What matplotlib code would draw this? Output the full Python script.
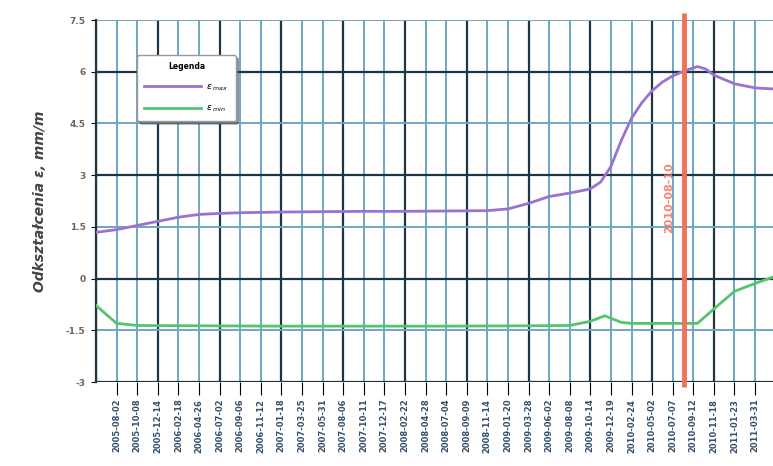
"""Odkształcenia - wykres eps max / eps min"""

import matplotlib.pyplot as plt

# tick labels along the time axis (one every ~66 days)
dates = ['2005-08-02', '2005-10-08', '2005-12-14', '2006-02-18', '2006-04-26',
         '2006-07-02', '2006-09-06', '2006-11-12', '2007-01-18', '2007-03-25',
         '2007-05-31', '2007-08-06', '2007-10-11', '2007-12-17', '2008-02-22',
         '2008-04-28', '2008-07-04', '2008-09-09', '2008-11-14', '2009-01-20',
         '2009-03-28', '2009-06-02', '2009-08-08', '2009-10-14', '2009-12-19',
         '2010-02-24', '2010-05-02', '2010-07-07', '2010-09-12', '2010-11-18',
         '2011-01-23', '2011-03-31']

# measurement positions (in tick units) and values, mm/m
eps_max_pos = [-1, 0, 1, 2, 3, 4, 5, 6, 8, 10, 12, 14, 16, 18, 19, 20, 21, 22, 23,
               23.5, 24, 24.5, 25, 25.5, 26, 26.5, 27, 27.6, 28.2, 28.6, 29, 30, 31, 31.9]
eps_max = [1.34, 1.42, 1.54, 1.66, 1.78, 1.86, 1.89, 1.91, 1.93, 1.94, 1.95, 1.95,
           1.96, 1.97, 2.02, 2.18, 2.38, 2.48, 2.60, 2.80, 3.25, 4.00, 4.65, 5.10,
           5.45, 5.70, 5.88, 6.03, 6.15, 6.08, 5.90, 5.65, 5.53, 5.50]

eps_min_pos = [-1, 0, 1, 4, 8, 12, 16, 20, 22, 23, 23.7, 24.5, 25, 26, 27, 28.2, 29,
               30, 31, 31.9]
eps_min = [-0.78, -1.30, -1.36, -1.37, -1.38, -1.38, -1.38, -1.37, -1.36, -1.24,
           -1.08, -1.27, -1.30, -1.30, -1.30, -1.30, -0.88, -0.37, -0.14, 0.05]

event_pos = 27.55
event_label = '2010-08-10'

# colours
C_MAJ = '#1d3645'
C_MIN = '#6fa6c0'


def main():
    fig = plt.figure(figsize=(7.73, 4.66), dpi=100)
    ax = fig.add_axes([96 / 773, 84 / 466, 677 / 773, 362 / 466])

    ticks = list(range(len(dates)))
    ax.set_xlim(-1, 31.87)
    ax.set_ylim(-3, 7.5)

    # grid - every tick light, every third tick dark
    for i in range(-1, len(dates)):
        major = (i + 1) % 3 == 0
        ax.axvline(i, color=C_MAJ if major else C_MIN, lw=1.6 if major else 1.4,
                   zorder=1)
    for y in [-3, -1.5, 0, 1.5, 3, 4.5, 6, 7.5]:
        major = y % 3 == 0
        ax.axhline(y, color=C_MAJ if major else C_MIN, lw=1.6 if major else 1.4,
                   zorder=1)

    for s in ['top', 'right', 'bottom']:
        ax.spines[s].set_visible(False)
    ax.spines['left'].set_color(C_MAJ)
    ax.spines['left'].set_linewidth(1.6)

    # curves
    ax.plot(eps_max_pos, eps_max, color='#9b72d2', lw=2.0, zorder=4,
            label=r'$\varepsilon_{\;max}$')
    ax.plot(eps_min_pos, eps_min, color='#55c46e', lw=2.0, zorder=4,
            label=r'$\varepsilon_{\;min}$')

    # event line
    ax.plot([event_pos, event_pos], [7.7, -3.15], color='#f2715a', lw=3.5,
            zorder=5, clip_on=False, solid_capstyle='butt')
    ax.text(event_pos - 0.7, 2.35, event_label, rotation=90, color='#f2715a',
            fontsize=8, ha='center', va='center', fontweight='bold', zorder=5,
            alpha=0.85)

    # x ticks
    ax.set_xticks(ticks)
    ax.set_xticklabels(dates, rotation=90, fontsize=6, color='#34506b',
                       fontweight='bold')
    for i, t in enumerate(ax.xaxis.get_major_ticks()):
        major = (i + 1) % 3 == 0
        t.tick1line.set_color(C_MAJ if major else C_MIN)
        t.tick1line.set_markeredgewidth(1.8 if major else 1.3)
    ax.tick_params(axis='x', length=9, pad=3)

    # y ticks
    yt = [-3, -1.5, 0, 1.5, 3, 4.5, 6, 7.5]
    ax.set_yticks(yt)
    ax.set_yticklabels(['-3', '-1.5', '0', '1.5', '3', '4.5', '6', '7.5'],
                       fontsize=6.5, color='#666666', fontweight='bold')
    for y, t in zip(yt, ax.yaxis.get_major_ticks()):
        major = y % 3 == 0
        t.tick1line.set_color(C_MAJ if major else C_MIN)
        t.tick1line.set_markersize(10 if major else 7)
        t.tick1line.set_markeredgewidth(1.6 if major else 1.2)
    ax.tick_params(axis='y', pad=4)

    ax.set_ylabel('Odkształcenia ε, mm/m', fontsize=10, fontstyle='italic',
                  fontweight='bold', color='#444444', labelpad=14)

    leg = ax.legend(loc='upper left', bbox_to_anchor=(0.061, 0.903), title='Legenda',
                    fontsize=6.5, handlelength=6.3, handletextpad=0.6,
                    borderpad=0.75, labelspacing=1.25, borderaxespad=0,
                    shadow=True, fancybox=True, framealpha=1,
                    title_fontproperties={'size': 5.5, 'weight': 'bold'})
    leg.get_frame().set_edgecolor('#999999')
    leg.set_zorder(10)

    fig.savefig('out.png', dpi=100)
    return True


if __name__ == '__main__':
    main()
